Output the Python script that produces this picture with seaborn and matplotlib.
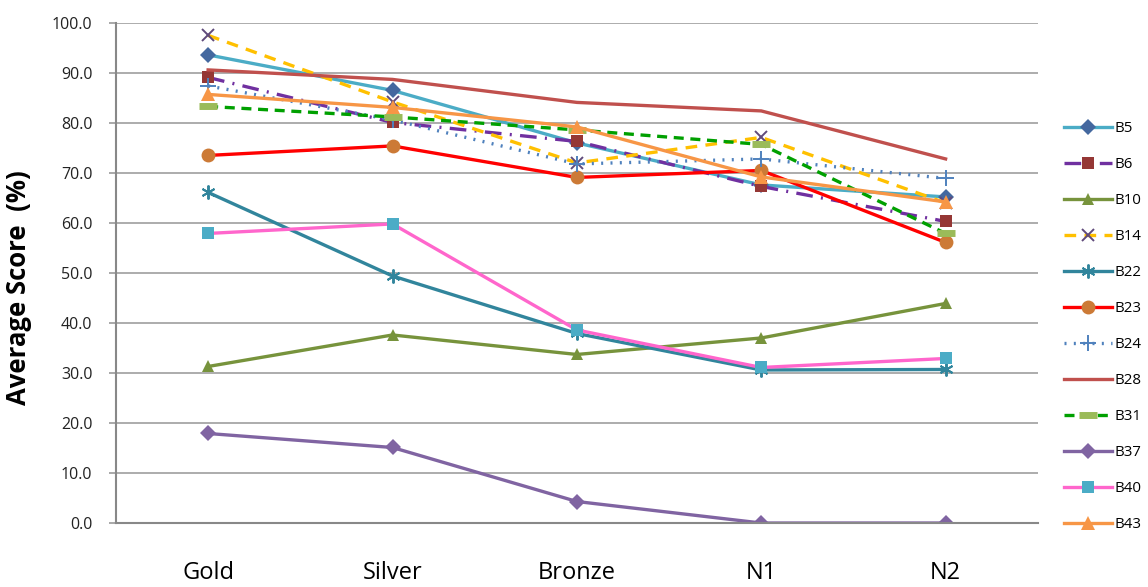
import numpy as np
import pandas as pd
import matplotlib
matplotlib.use("Agg")
import matplotlib.pyplot as plt
import seaborn as sns

categories = ["Gold", "Silver", "Bronze", "N1", "N2"]

b5 = [93.6, 86.5, 76.0, 67.6, 65.2]
b6 = [89.1, 80.1, 76.3, 67.3, 60.3]
b10 = [31.3, 37.6, 33.7, 37.0, 43.9]
b14 = [97.5, 84.2, 72.0, 77.1, 64.0]
b22 = [66.1, 49.4, 37.9, 30.6, 30.7]
b23 = [73.5, 75.4, 69.1, 70.5, 56.1]
b24 = [87.4, 80.6, 71.8, 72.8, 68.9]
b28 = [90.6, 88.7, 84.1, 82.4, 72.8]
b31 = [83.3, 81.2, 78.6, 75.7, 57.9]
b37 = [17.9, 15.1, 4.3, 0.0, 0.0]
b40 = [57.9, 59.8, 38.6, 31.1, 32.9]
b43 = [85.7, 83.1, 79.2, 69.2, 64.2]

series = {
    "B5": b5, "B6": b6, "B10": b10, "B14": b14, "B22": b22, "B23": b23,
    "B24": b24, "B28": b28, "B31": b31, "B37": b37, "B40": b40, "B43": b43,
}

# line colour, line style, marker, marker colour, marker size
styles = {
    "B5": ("#4BACC6", "-", "D", "#44689F", 8),
    "B6": ("#7030A0", (0, (5, 2.5, 0.6, 2.5)), "s", "#953735", 9),
    "B10": ("#77933C", "-", "^", "#77933C", 9),
    "B14": ("#FFC000", (0, (3.5, 2.5)), "x", "#604A7B", 9),
    "B22": ("#31859C", "-", (6, 2, 0), "#31859C", 10),
    "B23": ("#FF0000", "-", "o", "#CC7A36", 10),
    "B24": ("#4F81BD", (0, (0.6, 2.2)), "+", "#4F81BD", 11),
    "B28": ("#C0504D", "-", None, "#C0504D", 0),
    "B31": ("#00A000", (0, (3, 2)), "_", "#9BBB59", 13),
    "B37": ("#8064A2", "-", "D", "#8064A2", 8),
    "B40": ("#FF66CC", "-", "s", "#4BACC6", 9),
    "B43": ("#F79646", "-", "^", "#F79646", 10),
}

x = np.arange(len(categories))

fig, ax = plt.subplots(figsize=(11.48, 5.87), dpi=100)
fig.subplots_adjust(left=0.101, right=0.904, top=0.961, bottom=0.109)

for name, vals in series.items():
    color, ls, marker, mcolor, ms = styles[name]
    df = pd.DataFrame({"x": x, "y": vals})
    kw = dict(color=color, linestyle=ls, linewidth=2.4, label=name)
    if marker is not None:
        kw.update(marker=marker, markersize=ms, markerfacecolor=mcolor,
                  markeredgecolor=mcolor)
        if marker in ("x", "+", (6, 2, 0)):
            kw.update(markeredgewidth=1.4)
        elif marker == "_":
            kw.update(markeredgewidth=5)
        else:
            kw.update(markeredgewidth=0)
    sns.lineplot(data=df, x="x", y="y", ax=ax, sort=False, **kw)

ax.set_xlim(-0.5, 4.5)
ax.set_ylim(0, 100)
ax.set_yticks(np.arange(0, 101, 10))
ax.set_yticklabels([f"{v:.1f}" for v in range(0, 101, 10)], fontsize=11.5,
                   family="Open Sans", color="#222222")
ax.set_xticks(x)
ax.set_xticklabels(categories, fontsize=17, family="Open Sans")
ax.tick_params(axis="x", length=0, pad=27)
ax.tick_params(axis="y", length=5, width=1.2, color="#999999", pad=12)
ax.set_xlabel("")
ax.set_ylabel("Average Score  (%)", fontsize=18.5, fontweight="bold",
              family="Open Sans")
ax.yaxis.set_label_coords(-0.091, 0.47)

ax.grid(axis="y", color="#A6A6A6", linewidth=1.3)
ax.set_axisbelow(True)
for side in ("top", "right"):
    ax.spines[side].set_visible(False)
ax.spines["left"].set_color("#888888")
ax.spines["left"].set_linewidth(1.5)
ax.spines["bottom"].set_color("#888888")
ax.spines["bottom"].set_linewidth(1.5)

ax.legend(loc="upper left", bbox_to_anchor=(1.022, 0.815), frameon=False,
          handlelength=3.2, labelspacing=1.4, handletextpad=0.15,
          borderaxespad=0, prop={"family": "Open Sans", "size": 10.8})

fig.savefig("out.png", dpi=100)
